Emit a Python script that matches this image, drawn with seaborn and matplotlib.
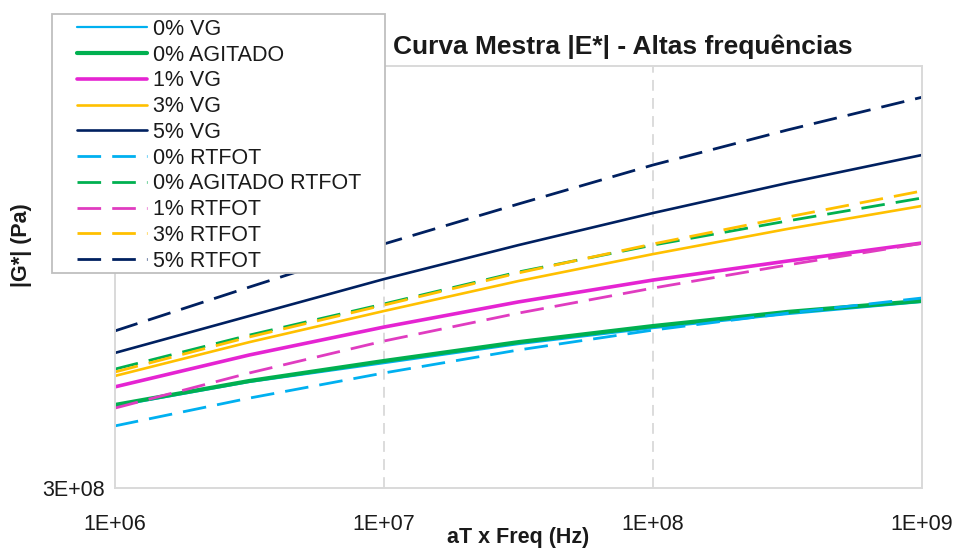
import matplotlib
matplotlib.use("Agg")
import matplotlib.pyplot as plt
from matplotlib.patches import Rectangle
from matplotlib.ticker import FixedLocator, NullLocator
import numpy as np
import pandas as pd
import seaborn as sns

# Reduced frequency (Hz), half-decade steps
freq = [1e6, 3.16e6, 1e7, 3.16e7, 1e8, 3.16e8, 1e9]

# |G*| (Pa) for each binder
g_0vg = [4.69e8, 5.35e8, 5.93e8, 6.58e8, 7.18e8, 7.75e8, 8.28e8]
g_0ag = [4.72e8, 5.38e8, 6.00e8, 6.65e8, 7.26e8, 7.84e8, 8.33e8]
g_1vg = [5.21e8, 6.20e8, 7.22e8, 8.28e8, 9.33e8, 1.035e9, 1.142e9]
g_3vg = [5.53e8, 6.65e8, 7.88e8, 9.28e8, 1.075e9, 1.233e9, 1.398e9]
g_5vg = [6.27e8, 7.67e8, 9.38e8, 1.129e9, 1.345e9, 1.584e9, 1.846e9]
g_0rt = [4.21e8, 4.90e8, 5.62e8, 6.37e8, 7.10e8, 7.79e8, 8.46e8]
g_0agrt = [5.74e8, 6.91e8, 8.19e8, 9.75e8, 1.129e9, 1.288e9, 1.460e9]
g_1rt = [4.64e8, 5.62e8, 6.69e8, 7.79e8, 8.93e8, 1.013e9, 1.140e9]
g_3rt = [5.65e8, 6.84e8, 8.14e8, 9.70e8, 1.136e9, 1.316e9, 1.517e9]
g_5rt = [7.07e8, 8.98e8, 1.136e9, 1.413e9, 1.748e9, 2.116e9, 2.53e9]

labels = ["0% VG", "0% AGITADO", "1% VG", "3% VG", "5% VG",
          "0% RTFOT", "0% AGITADO RTFOT", "1% RTFOT", "3% RTFOT", "5% RTFOT"]
series = [g_0vg, g_0ag, g_1vg, g_3vg, g_5vg, g_0rt, g_0agrt, g_1rt, g_3rt, g_5rt]

colors = ["#00B0F0", "#00B050", "#E524D2", "#FFC000", "#002060",
          "#00B0F0", "#00B050", "#E03CC0", "#FFC000", "#002060"]
widths = [1.6, 3.0, 2.6, 1.9, 1.9, 2.0, 2.0, 2.0, 2.0, 2.0]
dash = (0, (8.5, 4.0))
styles = ["-"] * 5 + [dash] * 5

sns.set_theme(style="white")
plt.rcParams["font.family"] = ["Liberation Sans", "DejaVu Sans"]

fig = plt.figure(figsize=(9.57, 5.5), dpi=100)
ax = fig.add_axes([115 / 957, 1 - 488 / 550, (922 - 115) / 957, (488 - 66) / 550])

for lab, vals, c, lw, ls in zip(labels, series, colors, widths, styles):
    df = pd.DataFrame({"freq": freq, "G": vals})
    sns.lineplot(data=df, x="freq", y="G", ax=ax, color=c, linewidth=lw,
                 linestyle=ls, label=lab)

ax.set_xscale("log")
ax.set_yscale("log")
ax.set_xlim(1e6, 1e9)
ax.set_ylim(3e8, 3e9)

ax.xaxis.set_major_locator(FixedLocator([1e6, 1e7, 1e8, 1e9]))
ax.xaxis.set_minor_locator(NullLocator())
ax.set_xticklabels(["1E+06", "1E+07", "1E+08", "1E+09"])
ax.yaxis.set_major_locator(FixedLocator([3e8]))
ax.yaxis.set_minor_locator(NullLocator())
ax.set_yticklabels(["3E+08"])

ax.tick_params(axis="both", length=0, labelsize=15.5, colors="#1a1a1a")
ax.tick_params(axis="x", pad=19)
ax.tick_params(axis="y", pad=7)

ax.grid(False)
for xv in [1e7, 1e8]:
    ax.axvline(xv, color="#D9D9D9", lw=1.3, ls=(0, (6, 4)), zorder=0)

for sp in ax.spines.values():
    sp.set_color("#D9D9D9")
    sp.set_linewidth(1.4)

ax.set_xlabel("")
ax.set_ylabel("")
fig.text(518 / 957, 1 - 538 / 550, "aT x Freq (Hz)", ha="center", va="center",
         fontsize=15.5, fontweight="bold", color="#1a1a1a")
fig.text(21 / 957, 1 - 245 / 550, "|G*| (Pa)", ha="center", va="center",
         rotation=90, fontsize=15.5, fontweight="bold", color="#1a1a1a")

fig.text(623 / 957, 1 - 47 / 550, "Curva Mestra |E*| - Altas frequências",
         ha="center", va="center", fontsize=19, fontweight="bold", color="#1a1a1a")

# legend box drawn on top of the plot area
handles, labs = ax.get_legend_handles_labels()
if ax.get_legend() is not None:
    ax.get_legend().remove()

box = Rectangle((52 / 957, 1 - 273 / 550), 333 / 957, 259 / 550,
                transform=fig.transFigure, facecolor="white",
                edgecolor="#BFBFBF", linewidth=1.3, zorder=4)
fig.patches.append(box)

leg = fig.legend(handles, labs, loc="upper left",
                 bbox_to_anchor=(77 / 957, 1 - 19 / 550),
                 frameon=False, fontsize=15.5, borderpad=0, borderaxespad=0,
                 handlelength=3.25, handletextpad=0.28, labelspacing=0.22)
leg.set_zorder(5)
for t in leg.get_texts():
    t.set_color("#1a1a1a")

fig.savefig("out.png", dpi=100)
